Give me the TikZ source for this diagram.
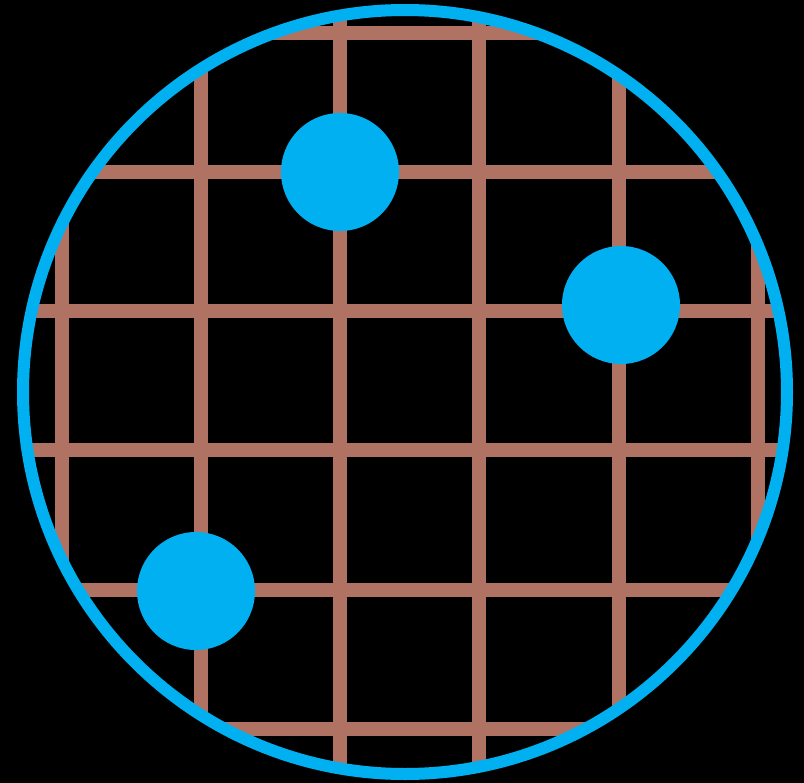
\documentclass[tikz,border=0pt]{standalone}
\usepackage{tikz}
\usetikzlibrary{positioning}
\definecolor{ringBlue}{HTML}{00B0F0}
\definecolor{gridBrown}{HTML}{B07262}

\begin{document}
\begin{tikzpicture}[
        x=0.025cm, y=-0.025cm,
        gridline/.style={
            draw=gridBrown,
            line width=0.34cm
        },
        bead/.style={
            circle,
            fill=ringBlue,
            inner sep=0pt,
            minimum size=2.95cm
        },
        ring/.style={
            draw=ringBlue,
            line width=0.3cm
        }
    ]
    
    % background and frame
    \fill[black] (0,0) rectangle (804,783);
    \useasboundingbox (0,0) rectangle (804,783);
    
    % grid, cut to the disc
    \begin{scope}
        \clip (405,392) circle[radius=380];
        \foreach \p in {62,201,340,479,619,758} {
            \draw[gridline] (\p,0) -- (\p,783);
            \draw[gridline] (0,\p-29) -- (804,\p-29);
        }
    \end{scope}
    
    \draw[ring] (405,392) circle[radius=382];
    
    % the three beads
    \node[bead] (top) at (340,172) {};
    \node[bead] (right) at (621,305) {};
    \node[bead] (low) at (196,591) {};
    
\end{tikzpicture}
\end{document}
